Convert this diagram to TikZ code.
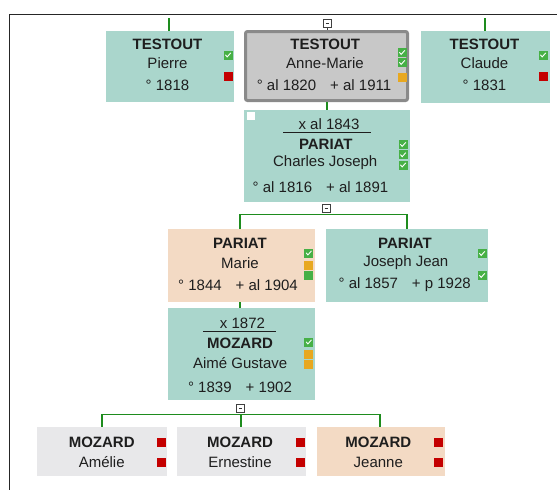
\documentclass[tikz,border=0pt]{standalone}
\usepackage{fontspec}
\setmainfont{Liberation Sans}
\definecolor{tealbox}{RGB}{170,214,204}
\definecolor{peachbox}{RGB}{243,218,196}
\definecolor{graybox}{RGB}{232,232,234}
\definecolor{selbox}{RGB}{200,200,200}
\definecolor{selborder}{RGB}{138,138,138}
\definecolor{linkgreen}{RGB}{30,140,30}
\definecolor{icgreen}{RGB}{70,176,70}
\definecolor{icred}{RGB}{196,0,0}
\definecolor{icorange}{RGB}{232,168,32}
\definecolor{txt}{RGB}{30,30,30}
\tikzset{
  pbox/.style={draw=none, inner sep=0pt, minimum width=#1},
  surname/.style={font=\bfseries\fontsize{15}{18}\selectfont, text=txt, inner sep=0pt},
  given/.style={font=\fontsize{15}{18}\selectfont, text=txt, inner sep=0pt},
  icon/.style={inner sep=0pt, minimum size=9pt, draw=none},
  chk/.style={icon, fill=icgreen, path picture={
      \draw[white, line width=0.9pt]
        ([shift={(-2.6pt,0.2pt)}]path picture bounding box.center) --
        ([shift={(-0.8pt,-1.9pt)}]path picture bounding box.center) --
        ([shift={(2.8pt,2.2pt)}]path picture bounding box.center);}},
  redsq/.style={icon, fill=icred},
  orsq/.style={icon, fill=icorange},
  grsq/.style={icon, fill=icgreen},
  toggle/.style={draw=black!75, fill=white, line width=0.7pt, inner sep=0pt, minimum size=8pt,
    path picture={\draw[black!80, line width=0.8pt]
        ([xshift=-1.5pt]path picture bounding box.center) -- ([xshift=1.5pt]path picture bounding box.center);}},
  link/.style={draw=linkgreen, line width=1.8pt},
  uline/.style={draw=txt, line width=0.8pt}
}
\begin{document}
\begin{tikzpicture}[x=1pt,y=-1pt]
\useasboundingbox (0,0) rectangle (557,490);
\fill[white] (0,0) rectangle (557,490);
\draw[line width=1pt, black!85] (9,490) -- (9,14) -- (557,14);

% ---- boxes ----
\node[pbox=128pt, minimum height=71pt, fill=tealbox] (pierre) at (170,66.5) {};
\node[pbox=162pt, minimum height=69pt, fill=selbox, draw=selborder, line width=3pt, rounded corners=2pt] (anne) at (326.5,66) {};
\node[pbox=129pt, minimum height=72pt, fill=tealbox] (claude) at (485.5,67) {};
\node[pbox=166pt, minimum height=92pt, fill=tealbox] (charles) at (327,156) {};
\node[pbox=147pt, minimum height=73pt, fill=peachbox] (marie) at (241.5,265.5) {};
\node[pbox=162pt, minimum height=73pt, fill=tealbox] (joseph) at (407,265.5) {};
\node[pbox=147pt, minimum height=92pt, fill=tealbox] (aime) at (241.5,354) {};
\node[pbox=130pt, minimum height=49pt, fill=graybox] (amelie) at (102,451.5) {};
\node[pbox=129pt, minimum height=49pt, fill=graybox] (ernestine) at (241.5,451.5) {};
\node[pbox=128pt, minimum height=49pt, fill=peachbox] (jeanne) at (381,451.5) {};

% ---- connectors ----
\coordinate (pierretop) at (169,18);
\coordinate (claudetop) at (485,18);
\draw[link] (pierre.north -| pierretop) -- (pierretop);
\draw[link] (claude.north -| claudetop) -- (claudetop);
\node[toggle] (tgtop) at (327,23) {};
\draw[black!75, line width=0.8pt] (tgtop.south) -- (tgtop.south |- anne.north);
\draw[link] (anne.south -| tgtop) -- (charles.north -| tgtop);

\coordinate (bar1l) at (240,214.5);
\coordinate (bar1r) at (407,214.5);
\draw[link] (bar1l |- marie.north) -- (bar1l) -- (bar1r) -- (bar1r |- joseph.north);
\node[toggle] (tgcharles) at (326,208) {};
\draw[link] (240,302) -- (240,308);

\coordinate (bar2l) at (102,414.5);
\coordinate (bar2m) at (241,414.5);
\coordinate (bar2r) at (380,414.5);
\draw[link] (bar2l |- amelie.north) -- (bar2l) -- (bar2r) -- (bar2r |- jeanne.north);
\draw[link] (bar2m) -- (bar2m |- ernestine.north);
\node[toggle] (tgaime) at (240.5,408) {};

% ---- Pierre ----
\node[surname] (t1) at (167.5,44.7) {TESTOUT};
\node[given] (t2) at (167.5,63.3) {Pierre};
\node[given] (t3) at (167.5,85) {° 1818};
\node[chk] (i1) at (228,55) {};
\node[redsq] (i2) at (228,76.5) {};

% ---- Anne-Marie ----
\node[surname] (a1) at (325.2,44.7) {TESTOUT};
\node[given] (a2) at (325,63.3) {Anne-Marie};
\node[given] (a3) at (324,85) {° al 1820\hspace{14pt}+ al 1911};
\node[chk] (ai1) at (402,52.5) {};
\node[chk] (ai2) at (402,62.5) {};
\node[orsq] (ai3) at (402,77) {};

% ---- Claude ----
\node[surname] (c1) at (484.5,44.7) {TESTOUT};
\node[given] (c2) at (484.5,63.3) {Claude};
\node[given] (c3) at (484.5,85) {° 1831};
\node[chk] (ci1) at (543,55) {};
\node[redsq] (ci2) at (543,76.5) {};

% ---- Charles Joseph ----
\fill[white] (246.5,112) rectangle (254.5,120);
\node[given] (m1) at (329,124) {x al 1843};
\draw[uline] (283,132) -- (371,132);
\node[surname] (p1) at (325.8,144) {PARIAT};
\node[given] (p2) at (325.2,163) {Charles Joseph};
\node[given] (p3) at (320.5,187) {° al 1816\hspace{14pt}+ al 1891};
\node[chk] (pi1) at (403,144.5) {};
\node[chk] (pi2) at (403,154.8) {};
\node[chk] (pi3) at (403,165) {};

% ---- Marie ----
\node[surname] (r1) at (240,243) {PARIAT};
\node[given] (r2) at (240,263) {Marie};
\node[given] (r3) at (238,285) {° 1844\hspace{14pt}+ al 1904};
\node[chk] (ri1) at (308.7,253) {};
\node[orsq] (ri2) at (308.7,265) {};
\node[grsq] (ri3) at (308.7,275.5) {};

% ---- Joseph Jean ----
\node[surname] (j1) at (405,243) {PARIAT};
\node[given] (j2) at (405.8,263) {Joseph Jean};
\node[given] (j3) at (404.7,285) {° al 1857\hspace{14pt}+ p 1928};
\node[chk] (ji1) at (482,253.5) {};
\node[chk] (ji2) at (482,275.5) {};

% ---- Aime Gustave ----
\node[given] (g0) at (242.5,323) {x 1872};
\draw[uline] (203,331) -- (276,331);
\node[surname] (g1) at (240,343) {MOZARD};
\node[given] (g2) at (240.2,363) {Aimé Gustave};
\node[given] (g3) at (240,387) {° 1839\hspace{14pt}+ 1902};
\node[chk] (gi1) at (308.7,342) {};
\node[orsq] (gi2) at (308.7,354) {};
\node[orsq] (gi3) at (308.7,364.7) {};

% ---- children ----
\node[surname] (k1) at (101.7,442) {MOZARD};
\node[given] (k2) at (101.7,462) {Amélie};
\node[redsq] (ki1) at (161,442) {};
\node[redsq] (ki2) at (161,462.5) {};
\node[surname] (e1) at (240,442) {MOZARD};
\node[given] (e2) at (240,462) {Ernestine};
\node[redsq] (ei1) at (300,442) {};
\node[redsq] (ei2) at (300,462.5) {};
\node[surname] (n1) at (378.3,442) {MOZARD};
\node[given] (n2) at (378.3,462) {Jeanne};
\node[redsq] (ni1) at (438,442) {};
\node[redsq] (ni2) at (438,462.5) {};
\end{tikzpicture}
\end{document}
